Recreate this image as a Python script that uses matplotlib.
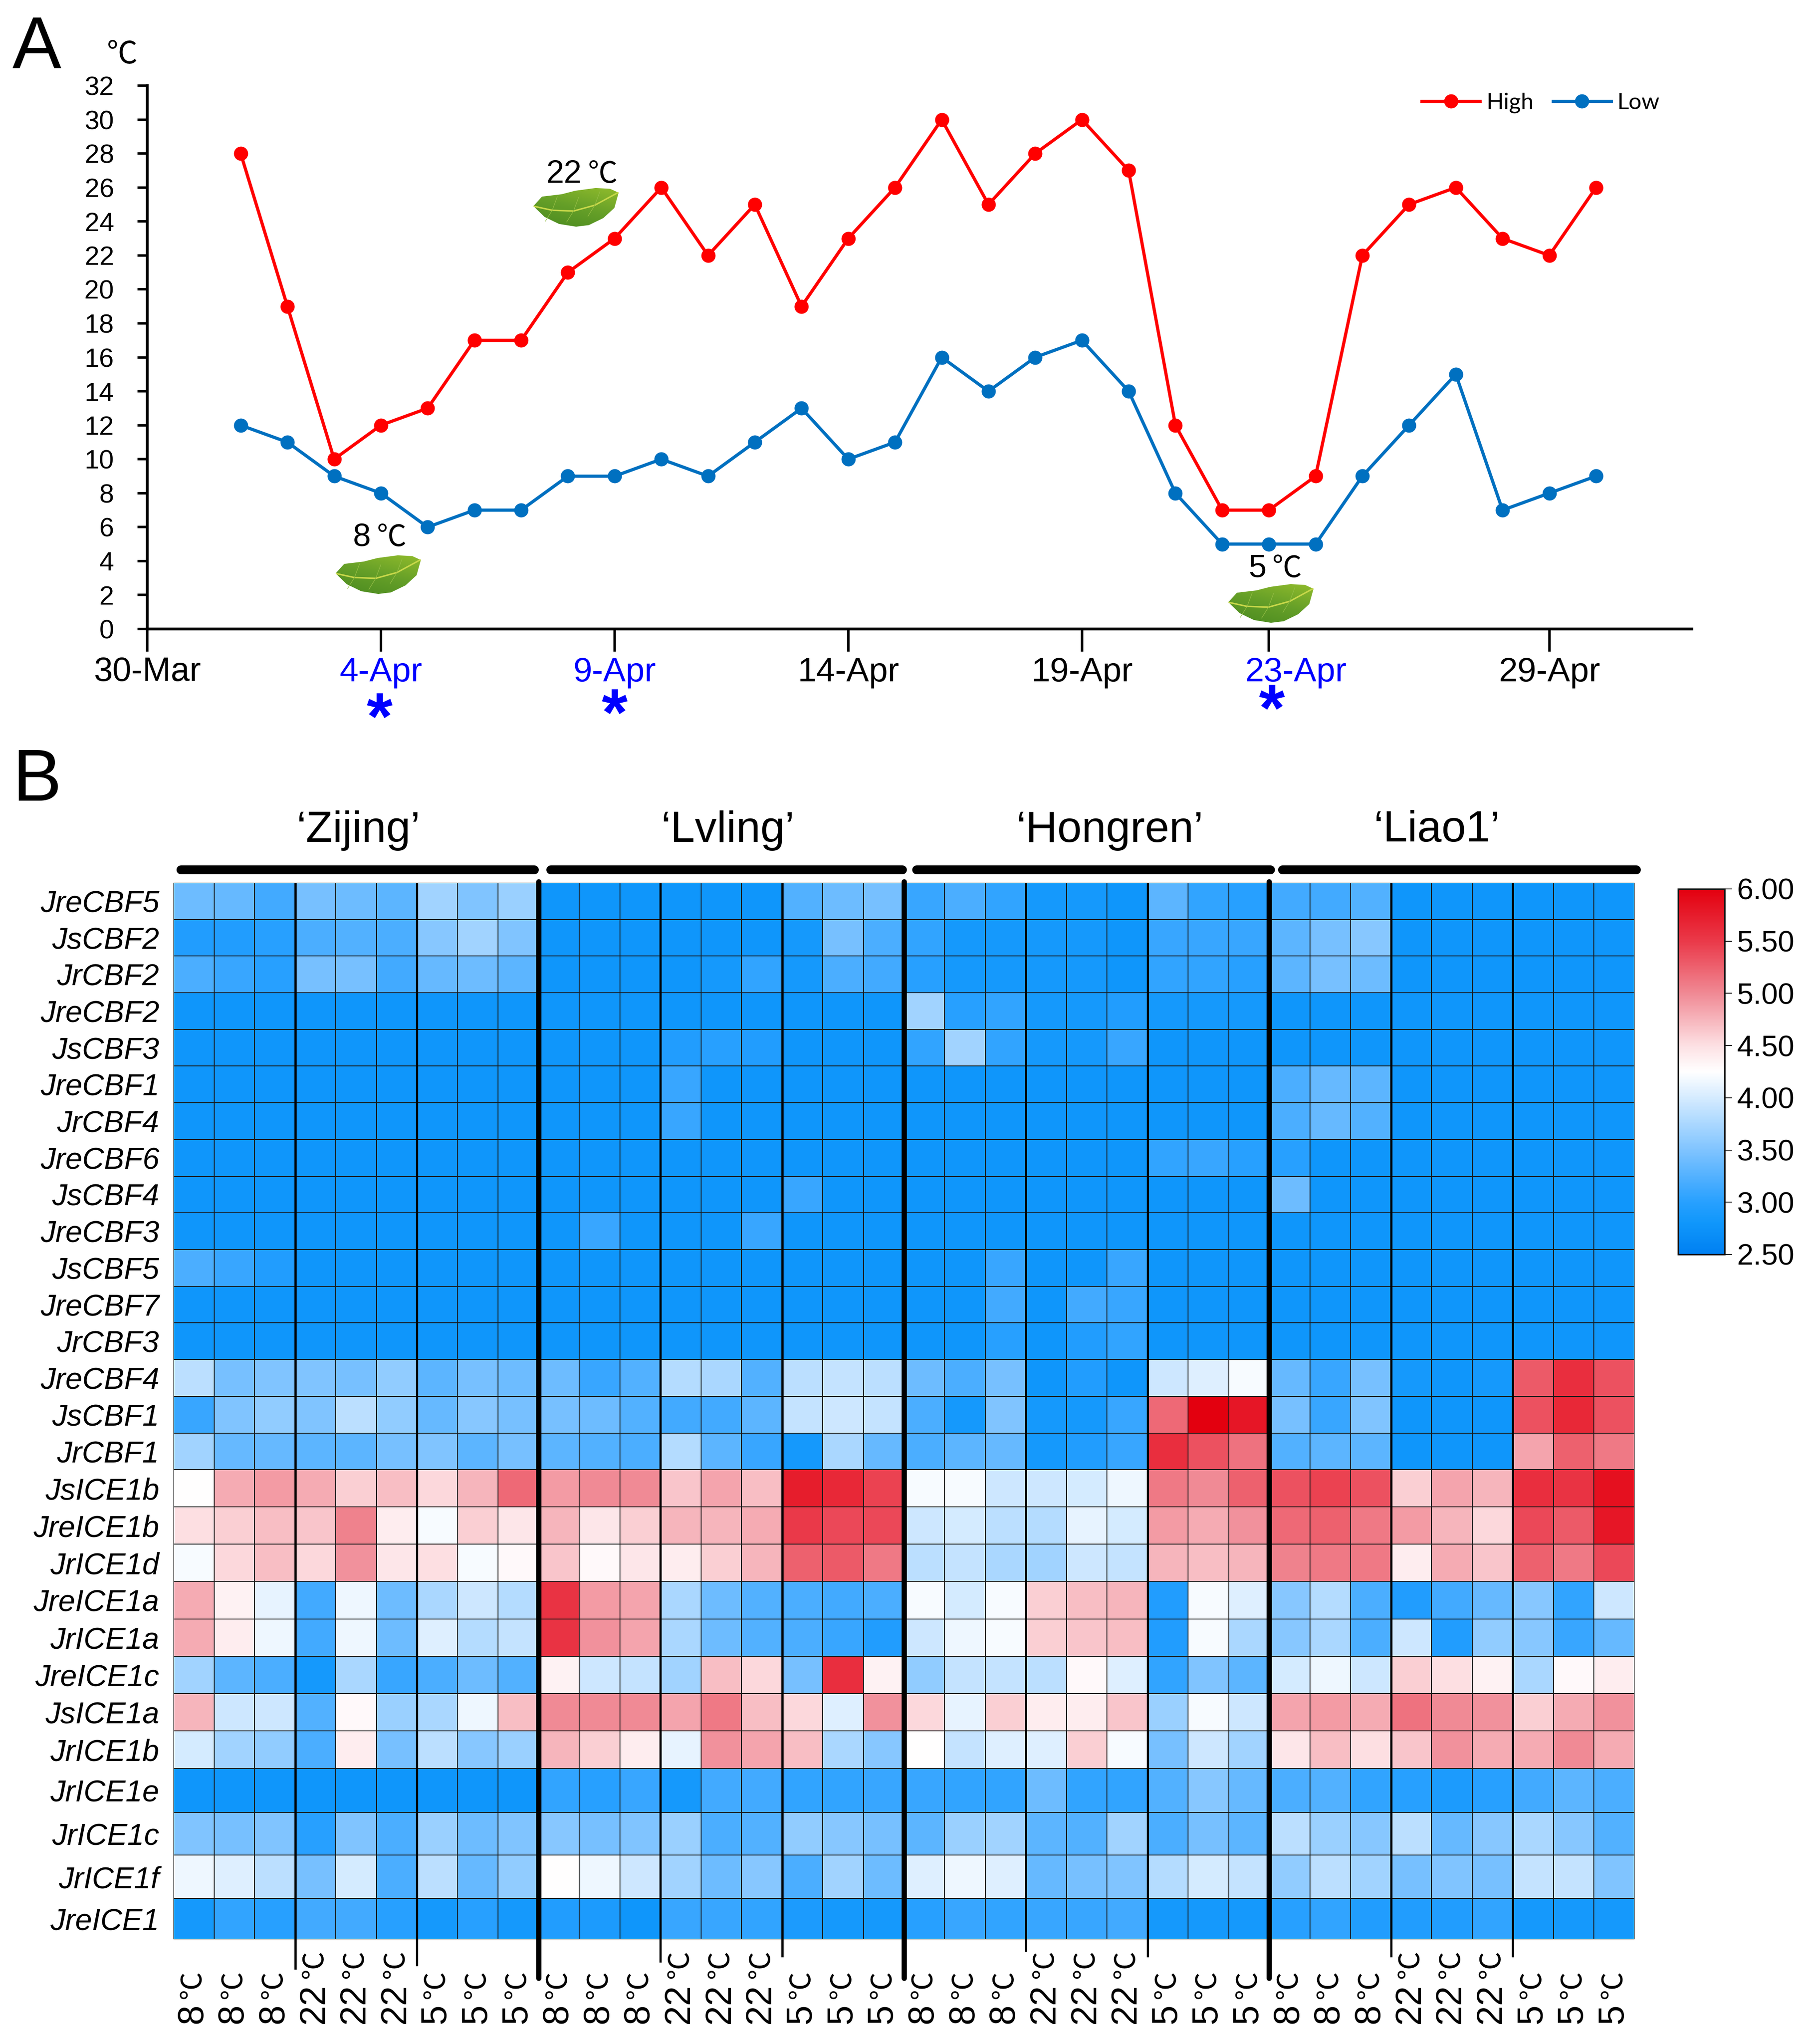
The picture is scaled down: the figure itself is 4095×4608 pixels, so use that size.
import numpy as np
import matplotlib
matplotlib.use("Agg")
import matplotlib.pyplot as plt
from matplotlib.colors import LinearSegmentedColormap, Normalize
from matplotlib.patches import PathPatch
from matplotlib.path import Path
from matplotlib.transforms import ScaledTranslation

plt.rcParams['font.family'] = ['Liberation Sans', 'Noto Sans CJK SC', 'DejaVu Sans']

W, H = 4095, 4608

# panel A
days = list(range(2, 32))  # days after 30-Mar
high = [28, 19, 10, 12, 13, 17, 17, 21, 23, 26, 22, 25, 19, 23, 26, 30, 25, 28, 30, 27, 12, 7, 7, 9, 22, 25, 26, 23, 22, 26]
low = [12, 11, 9, 8, 6, 7, 7, 9, 9, 10, 9, 11, 13, 10, 11, 16, 14, 16, 17, 14, 8, 5, 5, 5, 9, 12, 15, 7, 8, 9]
date_ticks = [0, 5, 10, 15, 20, 24, 30]
date_labels = ['30-Mar', '4-Apr', '9-Apr', '14-Apr', '19-Apr', '23-Apr', '29-Apr']
date_colors = ['black', 'blue', 'blue', 'black', 'black', 'blue', 'black']
temp_ticks = list(range(0, 33, 2))

# panel B
genes = ['JreCBF5', 'JsCBF2', 'JrCBF2', 'JreCBF2', 'JsCBF3', 'JreCBF1', 'JrCBF4', 'JreCBF6', 'JsCBF4', 'JreCBF3',
         'JsCBF5', 'JreCBF7', 'JrCBF3', 'JreCBF4', 'JsCBF1', 'JrCBF1', 'JsICE1b', 'JreICE1b', 'JrICE1d', 'JreICE1a',
         'JrICE1a', 'JreICE1c', 'JsICE1a', 'JrICE1b', 'JrICE1e', 'JrICE1c', 'JrICE1f', 'JreICE1']
temps = ['8', '8', '8', '22', '22', '22', '5', '5', '5']
cultivars = ['‘Zijing’', '‘Lvling’', '‘Hongren’', '‘Liao1’']

zijing = [
    [3.40, 3.35, 3.15, 3.45, 3.40, 3.30, 3.70, 3.50, 3.65],
    [2.95, 2.95, 3.00, 3.20, 3.25, 3.20, 3.55, 3.70, 3.50],
    [3.20, 3.10, 3.00, 3.45, 3.45, 3.15, 3.35, 3.40, 3.30],
    [2.80] * 9, [2.80] * 9, [2.80] * 9, [2.80] * 9, [2.80] * 9, [2.80] * 9, [2.80] * 9,
    [3.20, 3.10, 2.95, 2.80, 2.80, 2.80, 2.80, 2.80, 2.80],
    [2.80] * 9, [2.80] * 9,
    [3.85, 3.45, 3.50, 3.50, 3.45, 3.60, 3.30, 3.45, 3.40],
    [3.10, 3.50, 3.60, 3.50, 3.85, 3.60, 3.35, 3.55, 3.45],
    [3.70, 3.35, 3.35, 3.30, 3.30, 3.45, 3.50, 3.30, 3.45],
    [4.25, 4.80, 4.90, 4.80, 4.60, 4.70, 4.55, 4.75, 5.20],
    [4.50, 4.60, 4.70, 4.65, 5.05, 4.40, 4.20, 4.60, 4.45],
    [4.20, 4.55, 4.70, 4.55, 4.95, 4.45, 4.50, 4.20, 4.30],
    [4.80, 4.35, 4.10, 3.15, 4.15, 3.40, 3.75, 3.95, 3.80],
    [4.80, 4.40, 4.15, 3.15, 4.15, 3.40, 4.05, 3.80, 3.90],
    [3.70, 3.30, 3.20, 2.85, 3.75, 3.10, 3.20, 3.40, 3.25],
    [4.75, 3.95, 3.95, 3.25, 4.30, 3.65, 3.75, 4.15, 4.70],
    [4.00, 3.70, 3.60, 3.20, 4.40, 3.45, 3.85, 3.55, 3.65],
    [2.80] * 9,
    [3.50, 3.45, 3.50, 3.00, 3.50, 3.20, 3.65, 3.40, 3.50],
    [4.15, 4.05, 3.85, 3.45, 4.00, 3.20, 3.85, 3.35, 3.60],
    [2.85, 3.05, 3.00, 3.15, 3.15, 3.00, 2.85, 3.00, 2.85],
]
lvling = [
    [2.80, 2.80, 2.80, 2.80, 2.80, 2.80, 3.25, 3.40, 3.45],
    [2.80, 2.80, 2.80, 2.80, 2.80, 2.80, 2.85, 3.45, 3.20],
    [2.80, 2.80, 2.80, 2.80, 2.85, 3.05, 2.85, 3.20, 3.15],
    [2.80] * 9,
    [2.80, 2.80, 2.80, 2.95, 3.00, 2.95, 2.80, 2.80, 2.80],
    [2.80, 2.80, 2.80, 3.10, 2.80, 2.80, 2.80, 2.80, 2.80],
    [2.80, 2.80, 2.80, 3.10, 2.80, 2.80, 2.80, 2.80, 2.80],
    [2.80] * 9,
    [2.80, 2.80, 2.80, 2.80, 2.80, 2.80, 3.10, 2.80, 2.80],
    [2.80, 3.10, 2.80, 2.80, 2.80, 3.10, 2.80, 2.80, 2.80],
    [2.80] * 9, [2.80] * 9, [2.80] * 9,
    [3.40, 3.10, 3.25, 3.80, 3.75, 3.25, 3.85, 3.90, 3.85],
    [3.45, 3.40, 3.25, 3.15, 3.15, 3.30, 3.90, 3.95, 3.90],
    [3.30, 3.25, 3.20, 3.80, 3.30, 3.10, 2.85, 3.75, 3.35],
    [4.90, 5.00, 5.00, 4.65, 4.85, 4.70, 5.75, 5.65, 5.45],
    [4.75, 4.45, 4.60, 4.75, 4.75, 4.80, 5.50, 5.40, 5.40],
    [4.65, 4.30, 4.45, 4.40, 4.60, 4.75, 5.25, 5.30, 5.10],
    [5.55, 4.90, 4.85, 3.75, 3.40, 3.25, 3.20, 3.15, 3.20],
    [5.55, 4.95, 4.85, 3.75, 3.40, 3.25, 3.20, 3.10, 2.95],
    [4.35, 3.95, 3.90, 3.70, 4.70, 4.55, 3.45, 5.60, 4.35],
    [5.00, 5.00, 5.00, 4.85, 5.10, 4.70, 4.55, 4.05, 4.95],
    [4.75, 4.60, 4.40, 4.10, 4.95, 4.85, 4.70, 3.75, 3.55],
    [3.05, 3.00, 3.10, 2.85, 3.15, 3.15, 3.05, 3.05, 3.10],
    [3.55, 3.45, 3.50, 3.65, 3.20, 3.25, 3.60, 3.55, 3.45],
    [4.25, 4.15, 3.95, 3.70, 3.40, 3.55, 3.20, 3.70, 3.40],
    [2.95, 2.90, 2.80, 3.10, 3.10, 3.05, 2.90, 2.85, 2.85],
]
hongren = [
    [3.10, 3.20, 3.05, 2.85, 2.85, 2.80, 3.30, 3.05, 3.00],
    [3.05, 2.85, 2.85, 2.85, 2.85, 2.80, 3.10, 3.10, 3.10],
    [3.00, 2.85, 2.85, 2.85, 2.85, 2.80, 3.05, 3.05, 3.00],
    [3.70, 3.00, 3.05, 2.85, 2.85, 2.95, 2.85, 2.85, 2.85],
    [3.05, 3.70, 3.05, 2.85, 2.85, 3.10, 2.80, 2.80, 2.80],
    [2.80] * 9, [2.80] * 9,
    [2.80, 2.80, 2.80, 2.80, 2.80, 2.80, 3.05, 3.10, 3.00],
    [2.80] * 9, [2.80] * 9,
    [2.80, 2.80, 3.10, 2.80, 2.80, 3.10, 2.80, 2.80, 2.80],
    [2.80, 2.80, 3.15, 2.80, 3.15, 3.10, 2.80, 2.80, 2.80],
    [2.80, 2.80, 3.00, 2.80, 2.95, 3.05, 2.80, 2.80, 2.80],
    [3.40, 3.20, 3.45, 2.80, 2.95, 2.80, 3.95, 4.05, 4.20],
    [3.20, 2.85, 3.50, 2.85, 2.85, 3.10, 5.20, 6.00, 5.80],
    [3.20, 3.30, 3.35, 2.85, 2.95, 3.10, 5.60, 5.35, 5.15],
    [4.20, 4.20, 3.95, 3.95, 4.00, 4.15, 5.10, 5.00, 5.25],
    [3.95, 4.00, 3.85, 3.80, 4.10, 4.00, 4.90, 4.80, 4.95],
    [3.85, 3.90, 3.75, 3.70, 3.95, 3.90, 4.75, 4.70, 4.75],
    [4.20, 4.00, 4.20, 4.60, 4.70, 4.75, 2.95, 4.20, 4.05],
    [3.95, 4.15, 4.20, 4.60, 4.65, 4.70, 2.95, 4.20, 3.75],
    [3.60, 3.90, 3.90, 3.85, 4.30, 4.05, 3.05, 3.50, 3.30],
    [4.55, 4.10, 4.60, 4.40, 4.40, 4.65, 3.65, 4.20, 3.95],
    [4.25, 3.90, 4.05, 4.05, 4.60, 4.20, 3.45, 3.95, 3.70],
    [3.10, 3.05, 3.05, 3.40, 3.05, 3.05, 3.25, 3.55, 3.35],
    [3.30, 3.65, 3.70, 3.30, 3.25, 3.70, 3.20, 3.45, 3.30],
    [4.05, 4.15, 4.05, 3.35, 3.45, 3.50, 3.80, 4.00, 3.90],
    [3.00, 3.10, 3.05, 3.10, 3.10, 3.15, 2.85, 2.85, 2.85],
]
liao1 = [
    [3.15, 3.15, 3.25, 2.80, 2.80, 2.80, 2.80, 2.80, 2.80],
    [3.30, 3.45, 3.55, 2.80, 2.80, 2.80, 2.80, 2.80, 2.80],
    [3.30, 3.45, 3.40, 2.80, 2.80, 2.80, 2.80, 2.80, 2.80],
    [2.80] * 9, [2.80] * 9,
    [3.20, 3.35, 3.30, 2.80, 2.80, 2.80, 2.80, 2.80, 2.80],
    [3.20, 3.35, 3.25, 2.80, 2.80, 2.80, 2.80, 2.80, 2.80],
    [3.00, 2.80, 2.80, 2.80, 2.80, 2.80, 2.80, 2.80, 2.80],
    [3.40, 2.80, 2.80, 2.80, 2.80, 2.80, 2.80, 2.80, 2.80],
    [2.80] * 9, [2.80] * 9, [2.80] * 9, [2.80] * 9,
    [3.35, 3.10, 3.45, 2.85, 2.80, 2.85, 5.30, 5.60, 5.35],
    [3.45, 3.10, 3.50, 2.80, 2.80, 2.80, 5.35, 5.65, 5.35],
    [3.25, 3.30, 3.30, 2.80, 2.80, 2.80, 4.85, 5.25, 5.10],
    [5.35, 5.45, 5.35, 4.60, 4.85, 4.75, 5.60, 5.55, 5.85],
    [5.20, 5.25, 5.10, 4.90, 4.75, 4.55, 5.40, 5.30, 5.80],
    [5.05, 5.10, 5.10, 4.40, 4.80, 4.65, 5.25, 5.10, 5.40],
    [3.55, 3.80, 3.20, 2.95, 3.15, 3.35, 3.55, 3.05, 3.95],
    [3.55, 3.75, 3.20, 3.95, 2.95, 3.60, 3.55, 3.10, 3.35],
    [4.00, 4.15, 3.95, 4.60, 4.50, 4.35, 3.75, 4.30, 4.40],
    [4.85, 4.90, 4.80, 5.15, 5.00, 4.95, 4.60, 4.80, 4.95],
    [4.45, 4.70, 4.50, 4.65, 4.95, 4.80, 4.80, 5.00, 4.80],
    [3.20, 3.25, 3.05, 3.00, 2.90, 3.00, 3.15, 3.30, 3.20],
    [3.85, 3.65, 3.55, 3.85, 3.35, 3.55, 3.75, 3.55, 3.25],
    [3.60, 3.85, 3.70, 3.45, 3.50, 3.45, 3.90, 3.90, 3.50],
    [3.00, 3.05, 2.95, 2.95, 2.95, 3.05, 2.85, 2.85, 2.85],
]
cbar_ticks = [2.5, 3.0, 3.5, 4.0, 4.5, 5.0, 5.5, 6.0]


def box(left, top, right, bottom):
    # pixel box of the reference -> figure fraction
    return [left / W, 1 - bottom / H, (right - left) / W, (bottom - top) / H]


def px(x, y):
    return x / W, 1 - y / H


fig = plt.figure(figsize=(W / 100, H / 100), dpi=100)

# A: temperature lines
ax = fig.add_axes(box(332, 193, 3815, 1418))
ax.plot(days, high, '-o', color='#ff0000', lw=5.2, ms=22, label='High', clip_on=False)
ax.plot(days, low, '-o', color='#0070c0', lw=5.2, ms=22, label='Low', clip_on=False)
ax.set_xlim(0, 33.05)
ax.set_ylim(0, 32)
ax.set_yticks(temp_ticks)
ax.set_xticks(date_ticks)
ax.set_xticklabels(date_labels, fontsize=55)
ax.tick_params(axis='y', labelsize=43, length=16, width=4, pad=38)
ax.tick_params(axis='x', length=37, width=4, pad=8)
for lab, c in zip(ax.get_xticklabels(), date_colors):
    lab.set_color(c)
# the 23-Apr label sits right of its tick
ax.get_xticklabels()[5].set_transform(ax.get_xticklabels()[5].get_transform() + ScaledTranslation(0.60, 0, fig.dpi_scale_trans))
for s in ['top', 'right']:
    ax.spines[s].set_visible(False)
for s in ['left', 'bottom']:
    ax.spines[s].set_linewidth(4.6)
ax.legend(loc='center left', bbox_to_anchor=px(3206, 232), bbox_transform=fig.transFigure, ncol=2, frameon=False,
          prop={'family': 'Lato', 'size': 37}, handlelength=2.55, handletextpad=0.27, columnspacing=0.85, borderpad=0, borderaxespad=0)

fig.text(*px(28, 153), 'A', fontsize=119, ha='left', va='baseline')
fig.text(*px(29, 1805), 'B', fontsize=119, ha='left', va='baseline')
fig.text(*px(276, 122), '℃', fontsize=50, ha='center', va='center', family=['Noto Sans CJK SC'])

# leaves + their temperature labels
leaf_x = [0.00, 0.10, 0.33, 0.49, 0.73, 0.90, 1.00, 0.95, 0.82, 0.65, 0.50, 0.30, 0.13, 0.03]
leaf_y = [0.53, 0.77, 0.83, 0.92, 0.99, 0.97, 0.87, 0.48, 0.22, 0.04, 0.00, 0.07, 0.25, 0.46]
rib_x = [0.01, 0.22, 0.47, 0.72, 0.99]
rib_y = [0.52, 0.42, 0.40, 0.55, 0.87]
green_grad = LinearSegmentedColormap.from_list('leaf', ['#4a8a20', '#659f28', '#90bb2c'])


def draw_leaf(cx, cy):
    a = fig.add_axes(box(cx - 96, cy - 44, cx + 96, cy + 44))
    a.set_axis_off()
    a.set_xlim(0, 1)
    a.set_ylim(0, 1)
    patch = PathPatch(Path(np.column_stack([leaf_x, leaf_y]), closed=False), fc='none', ec='none')
    a.add_patch(patch)
    grad = np.add.outer(np.linspace(0, 0.65, 40), np.linspace(0, 0.35, 40))
    im = a.imshow(grad, origin='lower', extent=(0, 1, 0, 1), aspect='auto', cmap=green_grad, vmin=0, vmax=1)
    im.set_clip_path(patch)
    a.plot(rib_x, rib_y, color='#c8d84a', lw=2.4)
    for i in [1, 2, 3]:
        a.plot([rib_x[i], rib_x[i] + 0.06], [rib_y[i], rib_y[i] + 0.35], color='#94bd45', lw=0.9)
        a.plot([rib_x[i], rib_x[i] - 0.08], [rib_y[i], rib_y[i] - 0.28], color='#94bd45', lw=0.9)


def leaf_label(num, x, y):
    # number right-aligned at x, thin degree sign next to it
    fig.text(*px(x, y), num, fontsize=52, ha='right', va='center')
    fig.text(*px(x + 14, y), '℃', fontsize=48, ha='left', va='center', family=['Noto Sans CJK SC'])


draw_leaf(1299, 467)
draw_leaf(853, 1295)
draw_leaf(2866, 1360)
leaf_label('22', 1312, 393)
leaf_label('8', 836, 1212)
leaf_label('5', 2855, 1282)
for sx, sy in [(856, 1628), (1386, 1619), (2868, 1609)]:
    fig.text(*px(sx, sy), '*', fontsize=108, color='blue', fontweight='bold', ha='center', va='center')

# B: heatmap
values = np.hstack([np.array(zijing), np.array(lvling), np.array(hongren), np.array(liao1)])
row_h = [82.7] * 13 + [83, 83, 82, 84, 84, 84, 85, 84, 84, 84, 85, 99, 96, 98, 92]
row_edges = np.concatenate([[0], np.cumsum(row_h)])
col_edges = np.arange(values.shape[1] + 1)

cmap = LinearSegmentedColormap.from_list('bwr2', [
    (0.0, '#0080f2'), (0.3 / 3.5, '#1097fb'), (1 / 7, '#28a0ff'), (2 / 7, '#80c4ff'), (3 / 7, '#d5ebff'), (0.5, '#ffffff'),
    (4 / 7, '#fde0e3'), (5 / 7, '#f08a95'), (6 / 7, '#ea3a4a'), (1.0, '#e3000f')])
norm = Normalize(2.5, 6.0)

hm_top, hm_bottom = 1990, 4372
hx = fig.add_axes(box(391, hm_top, 3686, hm_bottom))
mesh = hx.pcolormesh(col_edges, row_edges, values, cmap=cmap, norm=norm, edgecolors='#1a1a1a', linewidth=1.2)
hx.set_xlim(0, values.shape[1])
hx.set_ylim(row_edges[-1], 0)
for s in hx.spines.values():
    s.set_visible(False)
hx.set_yticks((row_edges[:-1] + row_edges[1:]) / 2)
hx.set_yticklabels(genes, fontsize=49, style='italic')
hx.tick_params(axis='y', length=0, pad=23)
hx.set_xticks([])


def frac(py):
    return (hm_bottom - py) / (hm_bottom - hm_top)


# separators between temperatures and cultivars
sep_ends = {3: 4440, 6: 4432, 9: 4460, 12: 4424, 15: 4412, 18: 4460, 21: 4400, 24: 4412, 27: 4460, 30: 4412, 33: 4412}
for c, end in sep_ends.items():
    thick = c % 9 == 0
    hx.plot([c, c], [frac(end), frac(1988 if thick else 1990)], color='black', lw=8.5 if thick else 3.6,
            transform=hx.get_xaxis_transform(), clip_on=False, solid_capstyle='round' if thick else 'butt')

# cultivar bars + names
bar_spans = [(0.19, 8.89), (9.30, 17.96), (18.31, 27.03), (27.32, 36.04)]
name_x = [4.56, 13.66, 23.08, 31.13]
for (x0, x1), nx, name in zip(bar_spans, name_x, cultivars):
    hx.plot([x0, x1], [frac(1961), frac(1961)], color='black', lw=14.4, solid_capstyle='round',
            transform=hx.get_xaxis_transform(), clip_on=False)
    hx.text(nx, frac(1872), name, fontsize=71, ha='center', va='center', transform=hx.get_xaxis_transform())

# rotated temperature labels under each column
digit_len = {'8': 56, '5': 56, '22': 102}
for i in range(values.shape[1]):
    t = temps[i % 9]
    hx.text(i + 0.47, frac(4562), t, fontsize=58, rotation=90, ha='center', va='bottom',
            transform=hx.get_xaxis_transform(), clip_on=False)
    hx.text(i + 0.47, frac(4562 - digit_len[t]), '℃', fontsize=46, rotation=90, ha='center', va='bottom',
            transform=hx.get_xaxis_transform(), clip_on=False, family=['Noto Sans CJK SC'])

# colour bar
cax = fig.add_axes(box(3784, 2004, 3889, 2828))
cb = fig.colorbar(mesh, cax=cax, ticks=cbar_ticks, format='%.2f')
cb.outline.set_linewidth(2.4)
cb.outline.set_edgecolor('#111111')
cax.tick_params(length=12, width=1.3, labelsize=48, pad=8)

fig.savefig('out.png', dpi=100)
